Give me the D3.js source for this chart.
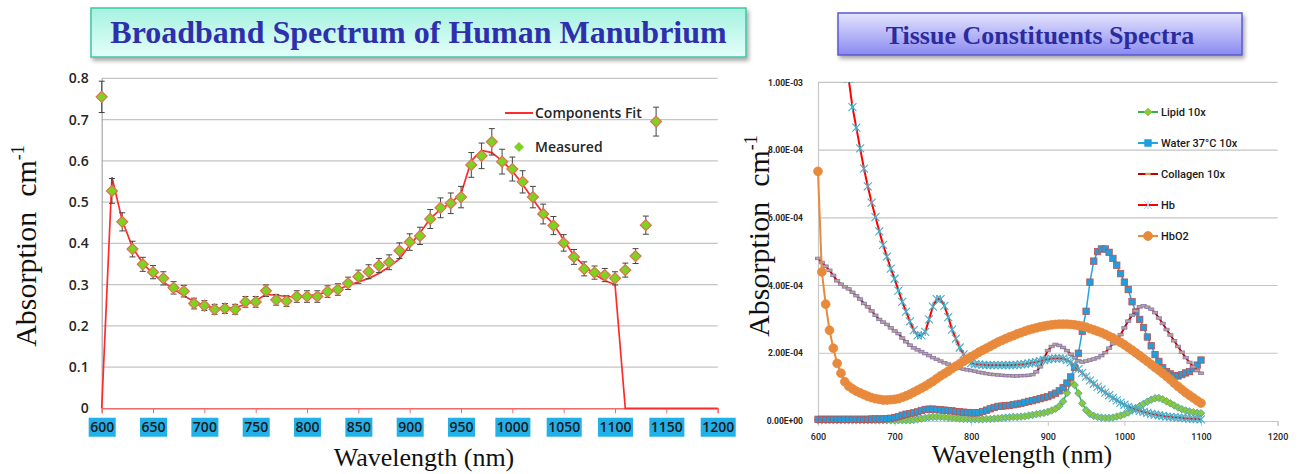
<!DOCTYPE html>
<html><head><meta charset="utf-8">
<script src="https://cdn.jsdelivr.net/npm/d3@7"></script>
<style>body{margin:0;background:#fff;}svg{display:block;}</style>
</head><body>
<svg id="c" width="1299" height="474"></svg>
<script>
// ---------- LEFT CHART DATA ----------
const measWl = [600,610,620,630,640,650,660,670,680,690,700,710,720,730,740,750,760,770,780,790,800,810,820,830,840,850,860,870,880,890,900,910,920,930,940,950,960,970,980,990,1000,1010,1020,1030,1040,1050,1060,1070,1080,1090,1100,1110,1120,1130,1140];
const measured = [0.755,0.527,0.452,0.386,0.349,0.330,0.315,0.292,0.284,0.254,0.249,0.240,0.242,0.240,0.258,0.258,0.285,0.263,0.260,0.271,0.271,0.271,0.283,0.288,0.303,0.319,0.331,0.346,0.354,0.382,0.403,0.418,0.459,0.486,0.497,0.512,0.590,0.612,0.646,0.598,0.580,0.549,0.512,0.471,0.443,0.401,0.367,0.338,0.329,0.323,0.315,0.335,0.369,0.444,0.695];
const measErr = [0.038,0.030,0.022,0.019,0.017,0.016,0.016,0.015,0.014,0.013,0.012,0.012,0.012,0.012,0.013,0.013,0.014,0.013,0.013,0.014,0.014,0.014,0.014,0.014,0.015,0.016,0.017,0.017,0.018,0.019,0.020,0.021,0.023,0.024,0.025,0.026,0.030,0.031,0.032,0.030,0.029,0.027,0.026,0.024,0.022,0.020,0.018,0.017,0.016,0.016,0.016,0.017,0.018,0.022,0.035];
const fitWl = [600,610,620,630,640,650,660,670,680,690,700,710,720,730,740,750,760,770,780,790,800,810,820,830,840,850,860,870,880,890,900,910,920,930,940,950,960,970,980,990,1000,1010,1020,1030,1040,1050,1060,1070,1080,1090,1100,1110,1200];
const fitVal = [0,0.560,0.455,0.390,0.352,0.326,0.306,0.289,0.273,0.259,0.249,0.243,0.242,0.245,0.251,0.261,0.276,0.274,0.271,0.270,0.272,0.276,0.282,0.289,0.297,0.306,0.315,0.327,0.343,0.362,0.395,0.425,0.460,0.482,0.498,0.520,0.600,0.625,0.620,0.600,0.575,0.543,0.507,0.472,0.447,0.408,0.370,0.345,0.325,0.310,0.300,0,0];
const leftXTicks = [600,650,700,750,800,850,900,950,1000,1050,1100,1150,1200];
const leftYTicks = [0,0.1,0.2,0.3,0.4,0.5,0.6,0.7,0.8];
const leftYLabels = ["0","0.1","0.2","0.3","0.4","0.5","0.6","0.7","0.8"];

// ---------- RIGHT CHART DATA (values in units of 1e-4 cm^-1, 600..1100 nm every 5 nm) ----------
const specWl = d3.range(600, 1101, 5);
const lipid = [
0.02,0.02,0.02,0.02,0.02,0.02,0.02,0.02,0.02,0.02,
0.02,0.02,0.02,0.02,0.02,0.02,0.02,0.02,0.02,0.02,
0.02,0.02,0.02,0.02,0.02,0.03,0.05,0.07,0.09,0.11,
0.12,0.12,0.12,0.11,0.10,0.09,0.08,0.07,0.06,0.06,
0.05,0.05,0.05,0.05,0.06,0.06,0.07,0.08,0.09,0.10,
0.11,0.12,0.12,0.13,0.14,0.16,0.18,0.20,0.22,0.24,
0.27,0.31,0.36,0.44,0.58,0.83,1.15,1.06,0.82,0.52,
0.32,0.21,0.15,0.12,0.10,0.09,0.09,0.10,0.13,0.16,
0.20,0.25,0.31,0.37,0.44,0.51,0.57,0.63,0.67,0.68,
0.64,0.58,0.52,0.46,0.40,0.35,0.31,0.28,0.26,0.24,
0.23];
const water = [
0.05,0.05,0.05,0.05,0.05,0.05,0.05,0.05,0.05,0.05,
0.05,0.05,0.05,0.05,0.06,0.06,0.06,0.06,0.07,0.08,
0.10,0.13,0.17,0.20,0.22,0.24,0.27,0.31,0.34,0.35,
0.35,0.34,0.33,0.32,0.31,0.30,0.28,0.27,0.26,0.25,
0.24,0.24,0.25,0.28,0.32,0.36,0.40,0.43,0.44,0.45,
0.46,0.48,0.50,0.52,0.55,0.58,0.60,0.63,0.66,0.69,
0.72,0.77,0.82,0.89,0.98,1.12,1.30,1.58,2.00,2.65,
3.24,4.10,4.72,5.00,5.08,5.08,4.98,4.80,4.60,4.35,
4.10,3.88,3.52,3.22,3.00,2.76,2.48,2.22,1.96,1.76,
1.57,1.46,1.39,1.34,1.33,1.37,1.42,1.46,1.55,1.65,
1.80];
const collagen = [
4.80,4.68,4.57,4.45,4.30,4.14,4.04,3.96,3.90,3.80,
3.70,3.60,3.47,3.37,3.25,3.12,3.00,2.92,2.85,2.75,
2.66,2.58,2.45,2.34,2.24,2.16,2.10,2.05,1.99,1.93,
1.87,1.82,1.77,1.72,1.68,1.64,1.60,1.56,1.53,1.51,
1.49,1.47,1.44,1.42,1.40,1.38,1.37,1.36,1.35,1.34,
1.34,1.33,1.33,1.34,1.34,1.35,1.37,1.45,1.60,1.85,
2.08,2.20,2.26,2.23,2.17,2.08,1.97,1.87,1.78,1.74,
1.77,1.80,1.83,1.87,1.93,2.02,2.15,2.28,2.40,2.55,
2.75,2.95,3.12,3.25,3.37,3.40,3.36,3.30,3.20,3.04,
2.88,2.70,2.54,2.37,2.20,2.03,1.87,1.73,1.60,1.49,
1.41];
const hb = [
32.0,27.5,23.5,20.0,17.2,15.0,13.1,11.5,10.1,9.27,
8.66,8.05,7.45,6.93,6.45,6.02,5.60,5.20,4.85,4.50,
4.20,3.85,3.52,3.23,2.94,2.68,2.53,2.53,2.63,3.00,
3.38,3.60,3.60,3.40,3.07,2.70,2.43,2.17,1.97,1.80,
1.71,1.68,1.67,1.66,1.65,1.65,1.65,1.65,1.65,1.65,
1.65,1.65,1.66,1.67,1.68,1.70,1.72,1.74,1.77,1.80,
1.82,1.84,1.85,1.85,1.84,1.80,1.73,1.64,1.53,1.42,
1.31,1.20,1.10,1.01,0.93,0.84,0.76,0.68,0.61,0.54,
0.48,0.42,0.38,0.34,0.30,0.27,0.24,0.21,0.19,0.17,
0.15,0.13,0.12,0.11,0.10,0.09,0.08,0.07,0.06,0.06,
0.05];
const hbo2 = [
7.37,4.40,3.45,2.68,2.15,1.70,1.41,1.16,1.03,0.95,
0.88,0.83,0.78,0.73,0.69,0.66,0.64,0.62,0.62,0.63,
0.64,0.66,0.70,0.74,0.79,0.85,0.91,0.97,1.03,1.10,
1.17,1.25,1.33,1.40,1.47,1.55,1.62,1.69,1.76,1.83,
1.90,1.96,2.03,2.09,2.15,2.21,2.27,2.33,2.38,2.43,
2.48,2.52,2.57,2.61,2.65,2.69,2.72,2.75,2.78,2.80,
2.82,2.84,2.85,2.86,2.86,2.86,2.85,2.84,2.82,2.80,
2.77,2.73,2.69,2.65,2.61,2.56,2.50,2.45,2.39,2.32,
2.25,2.17,2.09,2.01,1.93,1.84,1.76,1.67,1.58,1.50,
1.41,1.32,1.22,1.12,1.02,0.93,0.84,0.76,0.68,0.60,
0.53];
const seriesNames = ["Lipid 10x","Water 37°C 10x","Collagen 10x","Hb","HbO2"];
const rightXTicks = [600,700,800,900,1000,1100,1200];
const rightYTicks = [0,2,4,6,8,10];
const rightYLabels = ["0.00E+00","2.00E-04","4.00E-04","6.00E-04","8.00E-04","1.00E-03"];

// ---------- DRAW ----------
const SERIF = "'Liberation Serif', 'Times New Roman', serif";
const svg = d3.select("#c");
const defs = svg.append("defs");
function grad(id, c1, c2){
  const g = defs.append("linearGradient").attr("id",id).attr("x1",0).attr("y1",0).attr("x2",0).attr("y2",1);
  g.append("stop").attr("offset","0%").attr("stop-color",c1);
  g.append("stop").attr("offset","100%").attr("stop-color",c2);
}
grad("gTeal","#a4f2e0","#e4fff9");
grad("gBlue","#e4e4fe","#8a8af0");
const sh = defs.append("filter").attr("id","shadow").attr("x","-10%").attr("y","-20%").attr("width","130%").attr("height","160%");
sh.append("feDropShadow").attr("dx",2).attr("dy",3).attr("stdDeviation",2).attr("flood-color","#000").attr("flood-opacity",0.35);

// titles
svg.append("rect").attr("x",91).attr("y",8).attr("width",655).attr("height",49)
  .attr("fill","url(#gTeal)").attr("stroke","#3cc6a6").attr("stroke-width",1.5).attr("filter","url(#shadow)");
svg.append("text").attr("x",418.5).attr("y",43).attr("text-anchor","middle")
  .attr("font-family",SERIF).attr("font-weight","bold").attr("font-size",32)
  .attr("fill","#2f2fae").text("Broadband Spectrum of Human Manubrium");
svg.append("rect").attr("x",838).attr("y",13).attr("width",404).attr("height",42)
  .attr("fill","url(#gBlue)").attr("stroke","#5a5ad2").attr("stroke-width",1.5).attr("filter","url(#shadow)");
svg.append("text").attr("x",1040).attr("y",44).attr("text-anchor","middle")
  .attr("font-family",SERIF).attr("font-weight","bold").attr("font-size",26)
  .attr("fill","#2b2b9e").text("Tissue Constituents Spectra");

// ===== Left chart =====
const xL = d3.scaleLinear().domain([600,1200]).range([101.7,717.7]);
const yL = d3.scaleLinear().domain([0,0.8]).range([408.3,78.3]);
const L = svg.append("g");
L.append("g").selectAll("line").data(leftYTicks.filter(d=>d>0)).join("line")
  .attr("x1",xL(600)).attr("x2",xL(1200)).attr("y1",d=>yL(d)).attr("y2",d=>yL(d))
  .attr("stroke","#c4c4c4").attr("stroke-width",1.2);
const gyL = L.append("g").attr("transform",`translate(${xL(600)},0)`)
  .call(d3.axisLeft(yL).tickValues(leftYTicks).tickSize(0).tickPadding(13).tickFormat((d,i)=>leftYLabels[i]));
gyL.select(".domain").attr("stroke","#a8a8a8").attr("stroke-width",1.2);
gyL.selectAll("text").attr("font-family","Open Sans, sans-serif").attr("font-weight",600).attr("font-size",14).attr("fill","#262626");
const gxL = L.append("g").attr("transform",`translate(0,${yL(0)})`)
  .call(d3.axisBottom(xL).tickValues(leftXTicks).tickSize(5).tickPadding(9).tickFormat(d3.format("d")));
gxL.select(".domain").attr("stroke","#f06a6a").attr("stroke-width",1.4);
gxL.selectAll(".tick line").attr("stroke","#f06a6a");
gxL.selectAll("text").attr("font-family","Open Sans, sans-serif").attr("font-weight",600).attr("font-size",14).attr("fill","#1a1a1a");
gxL.selectAll(".tick").each(function(){
  const t = d3.select(this).select("text");
  const b = t.node().getBBox();
  d3.select(this).insert("rect","text").attr("x",b.x-1.5).attr("y",b.y+0.5).attr("width",b.width+3).attr("height",b.height).attr("fill","#22b0e8");
});
L.append("path").datum(fitWl.map((w,i)=>[w,fitVal[i]]))
  .attr("d",d3.line().x(d=>xL(d[0])).y(d=>yL(d[1])))
  .attr("fill","none").attr("stroke","#ff2b2b").attr("stroke-width",1.7);
const eb = L.append("g").attr("stroke","#444").attr("stroke-width",1);
measWl.forEach((w,i)=>{
  const x = xL(w), y1 = yL(measured[i]-measErr[i]), y2 = yL(measured[i]+measErr[i]);
  eb.append("line").attr("x1",x).attr("x2",x).attr("y1",y1).attr("y2",y2);
  eb.append("line").attr("x1",x-3).attr("x2",x+3).attr("y1",y1).attr("y2",y1);
  eb.append("line").attr("x1",x-3).attr("x2",x+3).attr("y1",y2).attr("y2",y2);
});
const diamond = s => `M0,${-s}L${s},0L0,${s}L${-s},0Z`;
L.append("g").selectAll("path").data(measWl.map((w,i)=>[w,measured[i]])).join("path")
  .attr("d",diamond(5.5)).attr("transform",d=>`translate(${xL(d[0])},${yL(d[1])})`)
  .attr("fill","#7dd321").attr("stroke","#e2704c").attr("stroke-width",1.2);
L.append("line").attr("x1",505).attr("x2",533).attr("y1",113).attr("y2",113).attr("stroke","#ff2b2b").attr("stroke-width",2);
L.append("text").attr("x",535).attr("y",118).text("Components Fit")
  .attr("font-family","Open Sans, sans-serif").attr("font-weight",600).attr("font-size",14).attr("fill","#262626");
L.append("path").attr("d",diamond(5)).attr("transform","translate(519,147)").attr("fill","#7dd321");
L.append("text").attr("x",535).attr("y",152).text("Measured")
  .attr("font-family","Open Sans, sans-serif").attr("font-weight",600).attr("font-size",14).attr("fill","#262626");
const ylabL = svg.append("text").attr("transform","translate(36,246) rotate(-90)").attr("text-anchor","middle")
  .attr("font-family",SERIF).attr("font-size",30).attr("fill","#111");
ylabL.append("tspan").text("Absorption\u00A0 cm");
ylabL.append("tspan").attr("dy",-12).attr("font-size",18).text("-1");
svg.append("text").attr("x",424).attr("y",466).attr("text-anchor","middle")
  .attr("font-family",SERIF).attr("font-size",26).attr("fill","#111").text("Wavelength (nm)");

// ===== Right chart =====
const xR = d3.scaleLinear().domain([600,1200]).range([818,1277.6]);
const yR = d3.scaleLinear().domain([0,10]).range([421,82.3]);
const R = svg.append("g");
R.append("g").selectAll("line").data(rightYTicks.filter(d=>d>0)).join("line")
  .attr("x1",xR(600)).attr("x2",xR(1200)).attr("y1",d=>yR(d)).attr("y2",d=>yR(d))
  .attr("stroke","#c4c4c4").attr("stroke-width",1.2);
const gyR = R.append("g").attr("transform",`translate(${xR(600)},0)`)
  .call(d3.axisLeft(yR).tickValues(rightYTicks).tickSize(0).tickPadding(15).tickFormat((d,i)=>rightYLabels[i]));
gyR.select(".domain").attr("stroke","#c8c8c8").attr("stroke-width",1.2);
gyR.selectAll("text").attr("font-family","Roboto, sans-serif").attr("font-weight",700).attr("font-size",8.5).attr("fill","#262626");
const gxR = R.append("g").attr("transform",`translate(0,${yR(0)})`)
  .call(d3.axisBottom(xR).tickValues(rightXTicks).tickSize(5).tickPadding(8).tickFormat(d3.format("d")));
gxR.select(".domain").attr("stroke","#c8c8c8").attr("stroke-width",1.2);
gxR.selectAll(".tick line").attr("stroke","#c8c8c8");
gxR.selectAll("text").attr("font-family","Roboto, sans-serif").attr("font-weight",500).attr("font-size",9).attr("fill","#262626");

defs.append("clipPath").attr("id","clipR").append("rect").attr("x",800).attr("y",82).attr("width",490).attr("height",350);
const plot = R.append("g").attr("clip-path","url(#clipR)");
const asterisk = s => `M${-s},${-s}L${s},${s}M${-s},${s}L${s},${-s}M0,${-s}L0,${s}`;
const series = [
  {vals: lipid,    line:"#2fb24c", lw:1.5, marker:"diamond", fill:"#8cc83c", stroke:"#4aa3b8"},
  {vals: water,    line:"#1fa8e0", lw:1.5, marker:"square",  fill:"#1e9fe0", stroke:"#c0504d"},
  {vals: collagen, line:"#c00000", lw:2,   marker:"dash",    fill:"#b7a6a0", stroke:"#8a78a8"},
  {vals: hb,       line:"#ff0000", lw:2,   marker:"star",    fill:"none",    stroke:"#4bacc6"},
  {vals: hbo2,     line:"#e8893b", lw:2,   marker:"circle",  fill:"#e8893b", stroke:"#e8893b"}
];
function drawMarker(g, type){
  if(type==="diamond") return g.append("path").attr("d",diamond(3.8));
  if(type==="square")  return g.append("rect").attr("x",-3.2).attr("y",-3.2).attr("width",6.4).attr("height",6.4);
  if(type==="dash")    return g.append("rect").attr("x",-2.6).attr("y",-1.3).attr("width",5.2).attr("height",2.6);
  if(type==="star")    return g.append("path").attr("d",asterisk(4));
  if(type==="circle")  return g.append("circle").attr("r",4.4);
}
series.forEach(sr=>{
  const pts = specWl.map((w,i)=>[w,sr.vals[i]]);
  plot.append("path").datum(pts).attr("d",d3.line().x(d=>xR(d[0])).y(d=>yR(d[1])))
    .attr("fill","none").attr("stroke",sr.line).attr("stroke-width",sr.lw);
  const mg = plot.append("g");
  pts.forEach(p=>{
    const g = mg.append("g").attr("transform",`translate(${xR(p[0])},${yR(p[1])})`);
    drawMarker(g, sr.marker).attr("fill",sr.fill).attr("stroke",sr.stroke).attr("stroke-width",sr.marker==="star"?1.1:0.8);
  });
});
const legY = [112,143,174,205,236];
series.forEach((sr,i)=>{
  const lg = R.append("g").attr("transform",`translate(1138,${legY[i]})`);
  lg.append("line").attr("x1",0).attr("x2",20).attr("y1",0).attr("y2",0).attr("stroke",sr.line).attr("stroke-width",2);
  const m = lg.append("g").attr("transform","translate(10,0)");
  if(sr.marker==="dash"){
    m.append("rect").attr("x",-2.6).attr("y",-1.3).attr("width",5.2).attr("height",2.6).attr("fill","#c9a96b");
  } else {
    drawMarker(m, sr.marker).attr("fill",sr.marker==="star"?"none":sr.fill)
      .attr("stroke",sr.marker==="star"?"#a8d4ea":sr.fill).attr("stroke-width",1);
  }
  lg.append("text").attr("x",23).attr("y",4).text(seriesNames[i])
    .attr("font-family","Roboto, sans-serif").attr("font-weight",500).attr("font-size",11).attr("fill","#1a1a1a");
});
const ylabR = svg.append("text").attr("transform","translate(769,236) rotate(-90)").attr("text-anchor","middle")
  .attr("font-family",SERIF).attr("font-size",30).attr("fill","#111");
ylabR.append("tspan").text("Absorption\u00A0 cm");
ylabR.append("tspan").attr("dy",-12).attr("font-size",18).text("-1");
svg.append("text").attr("x",1022).attr("y",463).attr("text-anchor","middle")
  .attr("font-family",SERIF).attr("font-size",26).attr("fill","#111").text("Wavelength (nm)");
</script>
</body></html>
